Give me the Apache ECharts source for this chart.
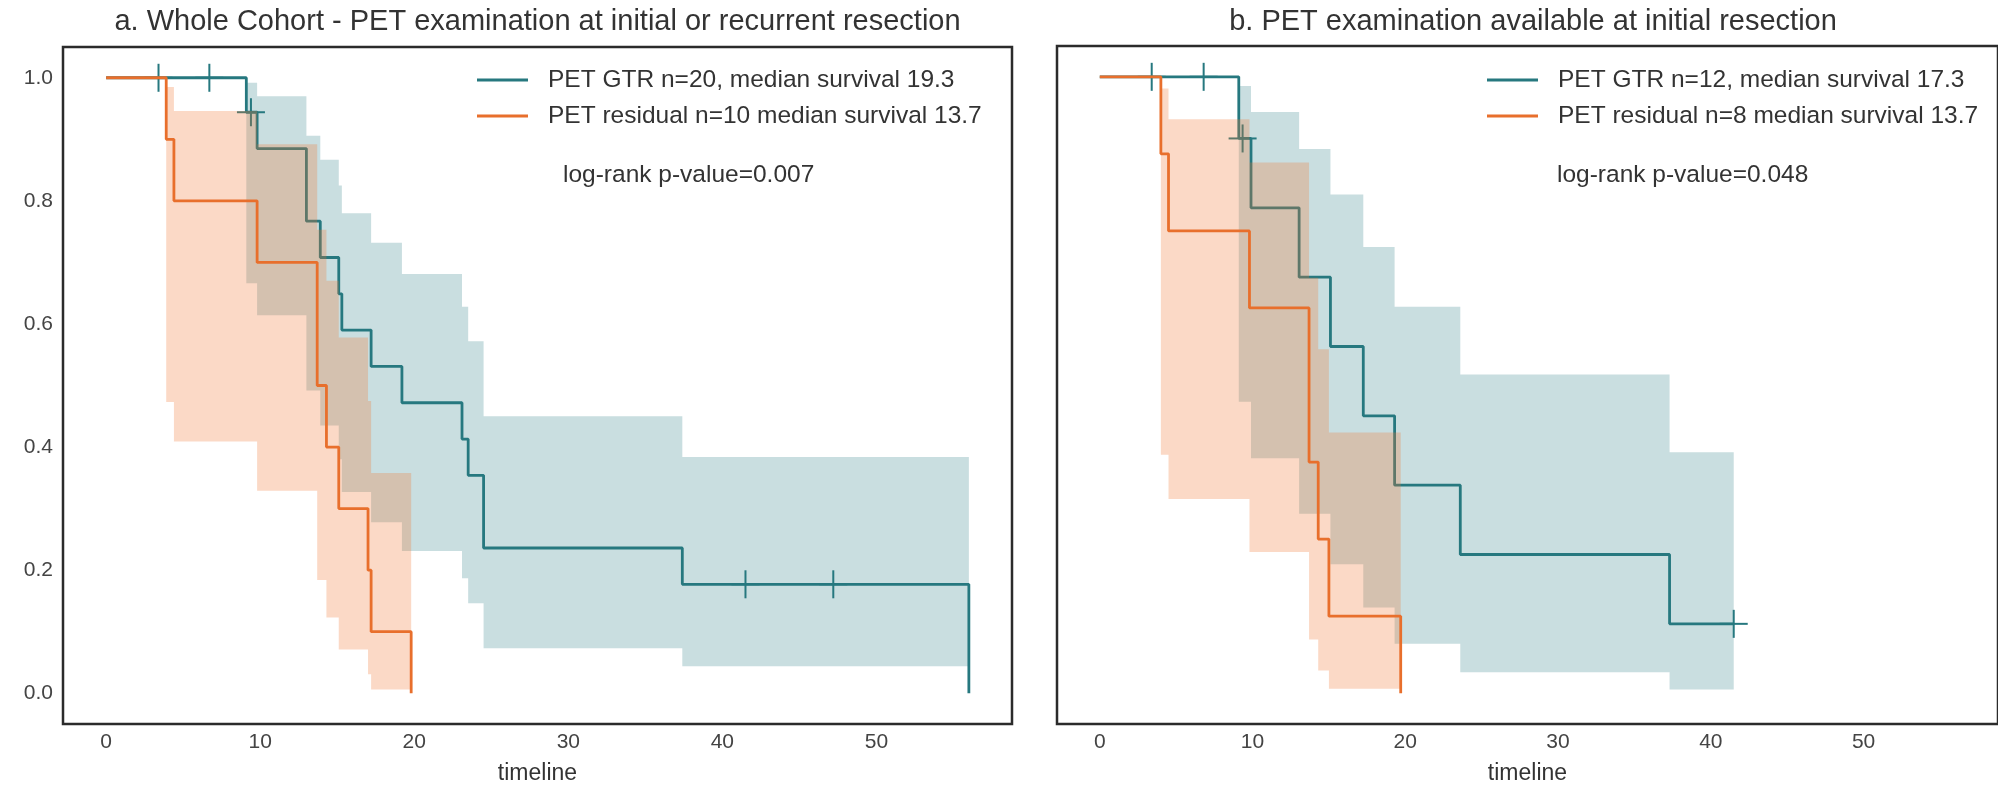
<!DOCTYPE html>
<html>
<head>
<meta charset="utf-8">
<script src="https://cdn.jsdelivr.net/npm/echarts@6/dist/echarts.min.js"></script>
<style>
  html, body { margin: 0; padding: 0; background: #ffffff; }
  #chart { width: 1998px; height: 790px; }
</style>
</head>
<body>
<div id="chart"></div>
<script>
// ---------- Panel a: whole cohort (PET at initial or recurrent resection) ----------
// Kaplan-Meier estimates at each event time, with the 95% confidence limits
const gtrA_time  = [0, 9.1, 9.8, 13.0, 13.9, 15.1, 15.3, 17.2, 19.2, 23.1, 23.5, 24.5, 37.4, 56.0];
const gtrA_surv  = [1, 0.944, 0.885, 0.767, 0.708, 0.649, 0.590, 0.531, 0.472, 0.413, 0.354, 0.236, 0.177, 0];
const gtrA_lower = [1, 0.666, 0.614, 0.492, 0.435, 0.380, 0.327, 0.278, 0.231, 0.187, 0.146, 0.073, 0.044, null];
const gtrA_upper = [1, 0.992, 0.970, 0.906, 0.867, 0.825, 0.780, 0.732, 0.681, 0.628, 0.572, 0.450, 0.384, null];
const gtrA_end = 56.0;
const gtrA_censored = [3.4, 6.7, 9.4, 41.5, 47.2];

const resA_time  = [0, 3.9, 4.4, 9.8, 13.7, 14.3, 15.1, 17.0, 17.2, 19.8];
const resA_surv  = [1, 0.9, 0.8, 0.7, 0.5, 0.4, 0.3, 0.2, 0.1, 0];
const resA_lower = [1, 0.473, 0.409, 0.329, 0.184, 0.123, 0.071, 0.031, 0.006, null];
const resA_upper = [1, 0.985, 0.946, 0.892, 0.753, 0.670, 0.578, 0.475, 0.358, null];
const resA_end = 19.8;
const resA_censored = [];

// ---------- Panel b: PET available at initial resection ----------
const gtrB_time  = [0, 9.1, 9.9, 13.05, 15.1, 17.25, 19.3, 23.6, 37.3];
const gtrB_surv  = [1, 0.9, 0.7875, 0.675, 0.5625, 0.45, 0.3375, 0.225, 0.1125];
const gtrB_lower = [1, 0.473, 0.381, 0.291, 0.209, 0.139, 0.080, 0.034, 0.006];
const gtrB_upper = [1, 0.985, 0.943, 0.883, 0.809, 0.724, 0.627, 0.517, 0.391];
const gtrB_end = 41.5;
const gtrB_censored = [3.4, 6.8, 9.35, 41.5];

const resB_time  = [0, 4.0, 4.5, 9.8, 13.7, 14.3, 15.0, 19.7];
const resB_surv  = [1, 0.875, 0.75, 0.625, 0.375, 0.25, 0.125, 0];
const resB_lower = [1, 0.387, 0.315, 0.229, 0.087, 0.037, 0.007, null];
const resB_upper = [1, 0.981, 0.931, 0.861, 0.674, 0.558, 0.423, null];
const resB_end = 19.7;
const resB_censored = [];

// ---------- Labels ----------
const titleA = 'a. Whole Cohort - PET examination at initial or recurrent resection';
const titleB = 'b. PET examination available at initial resection';
const nameGtrA = 'PET GTR n=20, median survival 19.3';
const nameResA = 'PET residual n=10 median survival 13.7';
const nameGtrB = 'PET GTR n=12, median survival 17.3';
const nameResB = 'PET residual n=8 median survival 13.7';
const pValueA = 'log-rank p-value=0.007';
const pValueB = 'log-rank p-value=0.048';
const xTicks = [0, 10, 20, 30, 40, 50];
const yTicks = [0, 0.2, 0.4, 0.6, 0.8, 1.0];
const xAxisTitle = 'timeline';

// ---------- Styling ----------
const FONT = '"Liberation Sans", Arial, Helvetica, sans-serif';
const TEAL = '#26787f';
const ORANGE = '#e86f2c';
const TEAL_BAND = 'rgba(39,124,133,0.25)';
const ORANGE_BAND = 'rgba(240,120,50,0.28)';
const TEXT = '#333333';
const TICK_TEXT = '#444444';

// step curve points, extended horizontally to the last follow-up time
function stepPoints(time, surv, end) {
  const pts = time.map((t, i) => [t, surv[i]]);
  if (end > time[time.length - 1]) pts.push([end, surv[surv.length - 1]]);
  return pts;
}

// confidence band segments [start, end, lower, upper]
function bandSegments(time, lower, upper, end) {
  const segs = [];
  for (let i = 0; i < time.length; i++) {
    if (lower[i] == null || upper[i] == null || lower[i] >= upper[i]) continue;
    const te = i + 1 < time.length ? time[i + 1] : end;
    segs.push([time[i], te, lower[i], upper[i]]);
  }
  return segs;
}

// survival value in effect at time t
function survivalAt(time, surv, t) {
  let s = surv[0];
  for (let i = 0; i < time.length; i++) if (time[i] <= t) s = surv[i];
  return s;
}

// one filled step polygon per confidence band
function bandSeries(segs, fill, axis, z) {
  return {
    type: 'custom', xAxisIndex: axis, yAxisIndex: axis, z: z, silent: true,
    data: segs,
    renderItem: function (params, api) {
      if (params.dataIndex !== 0) return null;
      const pts = [];
      segs.forEach(function (s) {
        pts.push(api.coord([s[0], s[3]]), api.coord([s[1], s[3]]));
      });
      for (let i = segs.length - 1; i >= 0; i--) {
        const s = segs[i];
        pts.push(api.coord([s[1], s[2]]), api.coord([s[0], s[2]]));
      }
      return { type: 'polygon', shape: { points: pts }, style: { fill: fill } };
    }
  };
}

function curveSeries(name, pts, color, axis, z) {
  return {
    type: 'line', name: name, xAxisIndex: axis, yAxisIndex: axis, z: z,
    data: pts, step: 'end', showSymbol: false, symbol: 'none', silent: true,
    lineStyle: { color: color, width: 2.8 },
    itemStyle: { color: color }
  };
}

// "+" markers for censored observations
function censorSeries(times, time, surv, color, axis, z) {
  const pts = times.map(function (t) { return [t, survivalAt(time, surv, t)]; });
  return {
    type: 'custom', xAxisIndex: axis, yAxisIndex: axis, z: z, silent: true,
    data: pts,
    renderItem: function (params, api) {
      const p = api.coord([api.value(0), api.value(1)]);
      const h = 14;
      return {
        type: 'group',
        children: [
          { type: 'line', shape: { x1: p[0], y1: p[1] - h, x2: p[0], y2: p[1] + h },
            style: { stroke: color, lineWidth: 2 } },
          { type: 'line', shape: { x1: p[0] - h, y1: p[1], x2: p[0] + h, y2: p[1] },
            style: { stroke: color, lineWidth: 2 } }
        ]
      };
    }
  };
}

function xAxisFor(grid) {
  return {
    type: 'value', gridIndex: grid, min: -2.8, max: 58.8,
    axisLine: { show: false }, axisTick: { show: false }, splitLine: { show: false },
    axisLabel: { customValues: xTicks, margin: 8, fontSize: 21, color: TICK_TEXT, fontFamily: FONT },
    name: xAxisTitle, nameLocation: 'middle', nameGap: 38,
    nameTextStyle: { fontSize: 23, color: TEXT, fontFamily: FONT }
  };
}

function yAxisFor(grid, showLabels) {
  return {
    type: 'value', gridIndex: grid, min: -0.05, max: 1.05,
    axisLine: { show: false }, axisTick: { show: false }, splitLine: { show: false },
    axisLabel: {
      show: showLabels, customValues: yTicks, margin: 10, fontSize: 21,
      color: TICK_TEXT, fontFamily: FONT,
      formatter: function (v) { return Number(v).toFixed(1); }
    }
  };
}

function legendFor(names, left) {
  return {
    data: names, left: left, top: 65, orient: 'vertical', padding: 0, itemGap: 6,
    itemWidth: 51, itemHeight: 3, icon: 'rect', selectedMode: false,
    textStyle: { fontSize: 24.5, lineHeight: 30, color: TEXT, fontFamily: FONT, padding: [0, 0, 0, 15] }
  };
}

const chart = echarts.init(document.getElementById('chart'), null, { renderer: 'canvas' });

chart.setOption({
  animation: false,
  backgroundColor: '#ffffff',
  grid: [
    { left: 63, top: 47, width: 949, height: 680, show: true, borderColor: '#2b2b2b', borderWidth: 2.5, backgroundColor: 'transparent' },
    { left: 1057, top: 46, width: 952, height: 681, show: true, borderColor: '#2b2b2b', borderWidth: 2.5, backgroundColor: 'transparent' }
  ],
  xAxis: [xAxisFor(0), xAxisFor(1)],
  yAxis: [yAxisFor(0, true), yAxisFor(1, false)],
  legend: [
    legendFor([nameGtrA, nameResA], 477),
    legendFor([nameGtrB, nameResB], 1487)
  ],
  graphic: [
    { type: 'text', x: 537.5, y: 22, silent: true,
      style: { text: titleA, font: '29px ' + FONT, fill: TEXT, align: 'center', verticalAlign: 'middle' } },
    { type: 'text', x: 1533, y: 22, silent: true,
      style: { text: titleB, font: '29px ' + FONT, fill: TEXT, align: 'center', verticalAlign: 'middle' } },
    { type: 'text', x: 563, y: 175, silent: true,
      style: { text: pValueA, font: '24.5px ' + FONT, fill: TEXT, align: 'left', verticalAlign: 'middle' } },
    { type: 'text', x: 1557, y: 175, silent: true,
      style: { text: pValueB, font: '24.5px ' + FONT, fill: TEXT, align: 'left', verticalAlign: 'middle' } }
  ],
  series: [
    // panel a
    bandSeries(bandSegments(gtrA_time, gtrA_lower, gtrA_upper, gtrA_end), TEAL_BAND, 0, 1),
    curveSeries(nameGtrA, stepPoints(gtrA_time, gtrA_surv, gtrA_end), TEAL, 0, 2),
    censorSeries(gtrA_censored, gtrA_time, gtrA_surv, TEAL, 0, 2),
    bandSeries(bandSegments(resA_time, resA_lower, resA_upper, resA_end), ORANGE_BAND, 0, 3),
    curveSeries(nameResA, stepPoints(resA_time, resA_surv, resA_end), ORANGE, 0, 4),
    censorSeries(resA_censored, resA_time, resA_surv, ORANGE, 0, 4),
    // panel b
    bandSeries(bandSegments(gtrB_time, gtrB_lower, gtrB_upper, gtrB_end), TEAL_BAND, 1, 1),
    curveSeries(nameGtrB, stepPoints(gtrB_time, gtrB_surv, gtrB_end), TEAL, 1, 2),
    censorSeries(gtrB_censored, gtrB_time, gtrB_surv, TEAL, 1, 2),
    bandSeries(bandSegments(resB_time, resB_lower, resB_upper, resB_end), ORANGE_BAND, 1, 3),
    curveSeries(nameResB, stepPoints(resB_time, resB_surv, resB_end), ORANGE, 1, 4),
    censorSeries(resB_censored, resB_time, resB_surv, ORANGE, 1, 4)
  ]
});
</script>
</body>
</html>
